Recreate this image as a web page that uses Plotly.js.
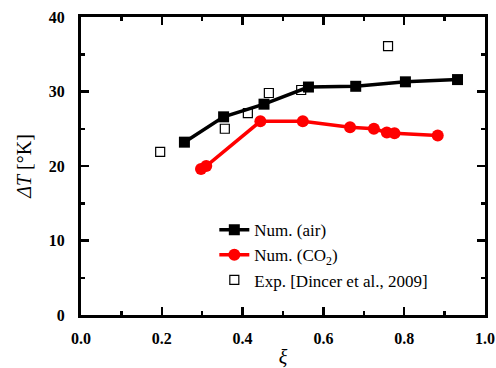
<!DOCTYPE html>
<html><head><meta charset="utf-8">
<script src="https://cdn.plot.ly/plotly-3.0.1.min.js"></script>
<style>html,body{margin:0;padding:0;background:#fff}#c{width:496px;height:368px}</style>
</head><body><div id="c"></div>
<script>
var airX = [0.256, 0.353, 0.453, 0.563, 0.680, 0.803, 0.932];
var airY = [23.2, 26.6, 28.3, 30.6, 30.7, 31.3, 31.6];
var co2X = [0.297, 0.310, 0.444, 0.549, 0.666, 0.725, 0.757, 0.776, 0.883];
var co2Y = [19.6, 20.0, 26.0, 26.0, 25.2, 25.0, 24.5, 24.4, 24.1];
var expX = [0.196, 0.356, 0.413, 0.465, 0.545, 0.760];
var expY = [21.9, 25.0, 27.1, 29.8, 30.2, 36.1];
var names = ['Num. (air)', 'Num. (CO<sub>2</sub>)', 'Exp. [Dincer et al., 2009]'];
var xTitle = '<i>ξ</i>';
var yTitle = '<i>ΔT</i> [°K]';

var F = 'Liberation Serif, Times New Roman, serif';
var traces = [
  {x: airX, y: airY, name: names[0], mode: 'lines+markers', type: 'scatter',
   line: {color: '#000', width: 3.5}, marker: {symbol: 'square', size: 11, color: '#000'}},
  {x: co2X, y: co2Y, name: names[1], mode: 'lines+markers', type: 'scatter',
   line: {color: '#ff0000', width: 3.5}, marker: {symbol: 'circle', size: 12, color: '#ff0000'}},
  {x: expX, y: expY, name: names[2], mode: 'markers', type: 'scatter',
   marker: {symbol: 'square-open', size: 9, color: '#000', line: {width: 1.2}}}
];
function axisCommon() {
  return {
    showgrid: false, zeroline: false, showline: true, linecolor: '#000', linewidth: 3,
    mirror: 'allticks', ticks: 'inside', ticklen: 8, tickwidth: 2.5, tickcolor: '#000',
    tickfont: {family: F, size: 16, color: '#000', weight: 'bold'}
  };
}
var layout = {
  width: 496, height: 368,
  font: {family: F, color: '#000'},
  margin: {l: 81, r: 11, t: 17, b: 53},
  paper_bgcolor: '#fff', plot_bgcolor: '#fff',
  showlegend: true,
  legend: {x: 0.33, y: 0.345, xanchor: 'left', yanchor: 'top', bgcolor: 'rgba(0,0,0,0)',
    font: {family: F, size: 17, color: '#000'}, tracegroupgap: 0},
  xaxis: Object.assign(axisCommon(), {
    range: [0, 1], dtick: 0.2, tickformat: '.1f', ticklabelstandoff: 7,
    minor: {dtick: 0.1, ticklen: 4, tickwidth: 2.5, ticks: 'inside', tickcolor: '#000'},
    title: {text: xTitle, font: {family: F, size: 20, color: '#000'}, standoff: 7}
  }),
  yaxis: Object.assign(axisCommon(), {
    range: [0, 40], dtick: 10, ticklabelstandoff: 10,
    minor: {dtick: 5, ticklen: 4, tickwidth: 2.5, ticks: 'inside', tickcolor: '#000'},
    title: {text: yTitle, font: {family: F, size: 20, color: '#000'}, standoff: 12}
  })
};
Plotly.newPlot('c', traces, layout, {staticPlot: true});
</script></body></html>
